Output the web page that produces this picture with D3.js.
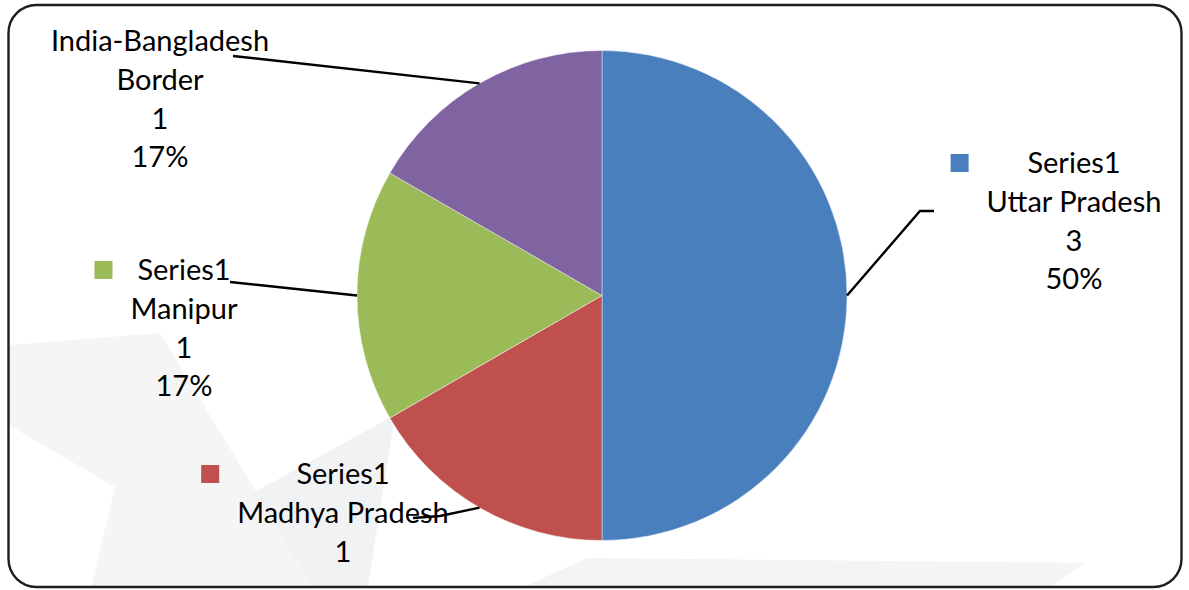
<!DOCTYPE html>
<html>
<head>
<meta charset="utf-8">
<script src="https://cdn.jsdelivr.net/npm/d3@7"></script>
<style>
  html, body { margin: 0; padding: 0; background: #ffffff; }
  svg { display: block; }
  text { font-family: Lato, "Open Sans", sans-serif; fill: #000; }
</style>
</head>
<body>
<svg id="chart" width="1189" height="590"></svg>
<script>
// Pie data
const categories = ["Uttar Pradesh", "Madhya Pradesh", "Manipur", "India-Bangladesh Border"];
const values = [3, 1, 1, 1];
const seriesName = "Series1";
const colors = ["#4a7fbe", "#c0504d", "#9bbb59", "#8064a2"];

const W = 1189, H = 590;
const svg = d3.select("#chart");

// Frame with rounded corners
const frame = { x: 8.5, y: 5, w: 1173, h: 582, r: 28 };
svg.append("clipPath").attr("id", "frameClip")
  .append("rect").attr("x", frame.x).attr("y", frame.y)
  .attr("width", frame.w).attr("height", frame.h).attr("rx", frame.r);

svg.append("rect").attr("x", frame.x).attr("y", frame.y)
  .attr("width", frame.w).attr("height", frame.h).attr("rx", frame.r)
  .attr("fill", "#ffffff");

// Faint decorative background shapes
const deco = svg.append("g").attr("clip-path", "url(#frameClip)");
const shapes = [
  { pts: [[0, 346], [160, 333], [317, 592], [90, 592], [115, 487], [0, 420]], fill: "#f5f5f6" },
  { pts: [[253, 493], [395, 415], [367, 592], [317, 592]], fill: "#f1f2f3" },
  { pts: [[513, 592], [587, 558], [1085, 563], [1044, 592]], fill: "#f3f4f4" }
];
deco.selectAll("polygon").data(shapes).join("polygon")
  .attr("points", d => d.pts.map(p => p.join(",")).join(" "))
  .attr("fill", d => d.fill);

// Pie
const cx = 602, cy = 295.5, R = 245;
const total = d3.sum(values);
const pie = d3.pie().sort(null).value(d => d.value);
const arcs = pie(categories.map((c, i) => ({ name: c, value: values[i], color: colors[i] })));
const arc = d3.arc().innerRadius(0).outerRadius(R);

const g = svg.append("g").attr("transform", `translate(${cx},${cy})`);
g.selectAll("path").data(arcs).join("path")
  .attr("d", arc)
  .attr("fill", d => d.data.color)
  .attr("stroke", "#ffffff")
  .attr("stroke-opacity", 0.55)
  .attr("stroke-width", 0.8);

// Data label layout: block centre, first baseline, leader elbow/end points, legend key flag
const labelLayout = {
  "Uttar Pradesh":           { x: 1074, y: 173, key: true,  lead: [[920, 211], [934, 211]] },
  "Madhya Pradesh":          { x: 343,  y: 484, key: true,  lead: [[440, 516], [413, 518]] },
  "Manipur":                 { x: 184,  y: 280, key: true,  lead: [[230, 282]] },
  "India-Bangladesh Border": { x: 160,  y: 51,  key: false, lead: [[233, 56]] }
};
const lineGap = 38.8;
const fontSize = 29;
const bottomLimit = frame.y + frame.h - 2;

const labels = svg.append("g");
const leaders = svg.append("g");

arcs.forEach(d => {
  const L = labelLayout[d.data.name];
  const pct = Math.round(d.data.value / total * 100) + "%";
  const nameLines = d.data.name === "India-Bangladesh Border"
    ? ["India-Bangladesh", "Border"] : [d.data.name];
  const lines = (L.key ? [seriesName] : []).concat(nameLines, [String(d.data.value), pct])
    // lines that would spill past the frame are left out, as the chart area clips them
    .filter((s, i) => L.y + i * lineGap <= bottomLimit);

  const t = labels.append("text")
    .attr("text-anchor", "middle")
    .attr("font-size", fontSize);
  lines.forEach((s, i) => {
    t.append("tspan").attr("x", L.x).attr("y", L.y + i * lineGap).text(s);
  });

  if (L.key) {
    let maxW = 0;
    t.selectAll("tspan").each(function () {
      maxW = Math.max(maxW, this.getComputedTextLength());
    });
    labels.append("rect")
      .attr("x", L.x - maxW / 2 - 36)
      .attr("y", L.y - 19)
      .attr("width", 18).attr("height", 18)
      .attr("fill", d.data.color);
  }

  // Leader from the slice edge at its mid angle
  const a = (d.startAngle + d.endAngle) / 2;
  const p0 = [cx + R * Math.sin(a), cy - R * Math.cos(a)];
  leaders.append("path")
    .attr("d", d3.line()([p0].concat(L.lead)))
    .attr("fill", "none")
    .attr("stroke", "#000")
    .attr("stroke-width", 2.4);
});

// Frame outline on top
svg.append("rect").attr("x", frame.x).attr("y", frame.y)
  .attr("width", frame.w).attr("height", frame.h).attr("rx", frame.r)
  .attr("fill", "none").attr("stroke", "#1e1e1e").attr("stroke-width", 2.4);
</script>
</body>
</html>
